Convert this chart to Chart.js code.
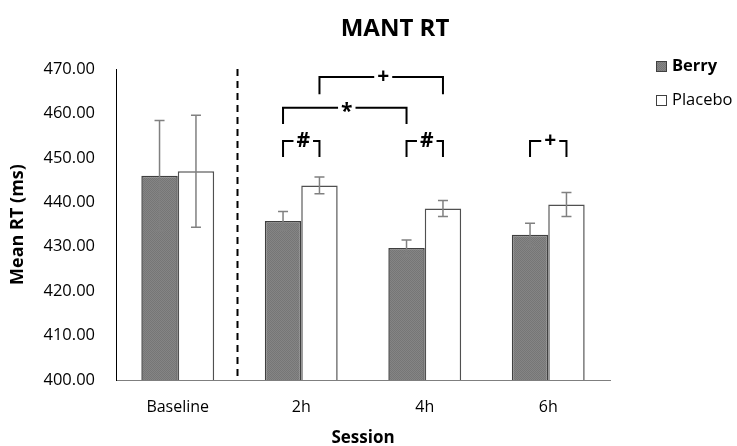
<!DOCTYPE html>
<html>
<head>
<meta charset="utf-8">
<script src="https://cdn.jsdelivr.net/npm/chart.js@4"></script>
<style>
  html, body { margin: 0; padding: 0; background: #fff; }
  #wrap { width: 737px; height: 446px; }
</style>
</head>
<body>
<div id="wrap"><canvas id="chart" width="737" height="446"></canvas></div>
<script>
// MANT RT — mean reaction time per session

const sessions = ['Baseline', '2h', '4h', '6h'];
const berryMeans = [446.0, 435.8, 429.7, 432.7];
const berryErr = [12.4, 2.1, 1.8, 2.6];
const placeboMeans = [447.0, 443.8, 438.6, 439.5];
const placeboErr = [12.6, 1.9, 1.8, 2.7];
const yTicks = [400, 410, 420, 430, 440, 450, 460, 470];

// significance brackets: [category, dataset] at each end, bar height, drop height
const brackets = [
  { from: [1, 1], to: [2, 1], y: 468.2, drop: 464.3, label: '+' },
  { from: [1, 0], to: [2, 0], y: 461.3, drop: 457.6, label: '*' },
  { from: [1, 0], to: [1, 1], y: 453.8, drop: 450.2, label: '#' },
  { from: [2, 0], to: [2, 1], y: 453.8, drop: 450.2, label: '#' },
  { from: [3, 0], to: [3, 1], y: 453.8, drop: 450.2, label: '+' },
];

const FONT = "'Open Sans', sans-serif";

function berryPattern() {
  const c = document.createElement('canvas');
  c.width = 2; c.height = 2;
  const g = c.getContext('2d');
  g.fillStyle = '#858585';
  g.fillRect(0, 0, 2, 2);
  g.fillStyle = '#767676';
  g.fillRect(0, 0, 1, 1);
  g.fillRect(1, 1, 1, 1);
  return g.createPattern(c, 'repeat');
}

const extras = {
  id: 'extras',
  afterDatasetsDraw(chart) {
    const { ctx, chartArea, scales } = chart;
    const x = scales.x, y = scales.y;

    // title, placed like the original (not centred on the plot)
    ctx.save();
    ctx.fillStyle = '#000';
    ctx.font = 'bold 24px ' + FONT;
    ctx.textAlign = 'center';
    ctx.textBaseline = 'middle';
    ctx.fillText('MANT RT', 395, 29);
    ctx.restore();

    // dashed separator between baseline and the post-dose sessions
    const sepX = (x.getPixelForValue(0) + x.getPixelForValue(1)) / 2 - 2;
    ctx.save();
    ctx.strokeStyle = '#000';
    ctx.lineWidth = 2;
    ctx.setLineDash([7, 5]);
    ctx.beginPath();
    ctx.moveTo(sepX, chartArea.top);
    ctx.lineTo(sepX, chartArea.bottom);
    ctx.stroke();
    ctx.restore();

    // error bars
    const errs = [berryErr, placeboErr];
    ctx.save();
    ctx.strokeStyle = '#808080';
    ctx.lineWidth = 1.5;
    chart.data.datasets.forEach((ds, di) => {
      chart.getDatasetMeta(di).data.forEach((bar, i) => {
        const v = ds.data[i];
        const top = y.getPixelForValue(v + errs[di][i]);
        const bot = y.getPixelForValue(v - errs[di][i]);
        ctx.beginPath();
        ctx.moveTo(bar.x, top); ctx.lineTo(bar.x, bot);
        ctx.moveTo(bar.x - 5, top); ctx.lineTo(bar.x + 5, top);
        ctx.moveTo(bar.x - 5, bot); ctx.lineTo(bar.x + 5, bot);
        ctx.stroke();
      });
    });
    ctx.restore();

    // brackets
    ctx.save();
    ctx.strokeStyle = '#000';
    ctx.fillStyle = '#000';
    ctx.lineWidth = 2;
    ctx.font = 'bold 21px ' + FONT;
    ctx.textAlign = 'center';
    ctx.textBaseline = 'middle';
    brackets.forEach((b) => {
      const x1 = chart.getDatasetMeta(b.from[1]).data[b.from[0]].x;
      const x2 = chart.getDatasetMeta(b.to[1]).data[b.to[0]].x;
      const yy = y.getPixelForValue(b.y);
      const yd = y.getPixelForValue(b.drop);
      const mid = (x1 + x2) / 2 + 2;
      const gap = ctx.measureText(b.label).width / 2 + 3;
      ctx.beginPath();
      ctx.moveTo(x1, yd); ctx.lineTo(x1, yy); ctx.lineTo(mid - gap, yy);
      ctx.moveTo(mid + gap, yy); ctx.lineTo(x2, yy); ctx.lineTo(x2, yd);
      ctx.stroke();
      ctx.fillText(b.label, mid, yy + (b.label === '*' ? 4 : 0));
    });
    ctx.restore();

    // legend
    ctx.save();
    const items = [
      { text: 'Berry', fill: chart.data.datasets[0].backgroundColor, bold: true, y: 66 },
      { text: 'Placebo', fill: '#fff', bold: false, y: 100 },
    ];
    ctx.textBaseline = 'middle';
    ctx.textAlign = 'left';
    items.forEach((it) => {
      ctx.fillStyle = it.fill;
      ctx.fillRect(656, it.y - 5, 10, 10);
      ctx.strokeStyle = '#404040';
      ctx.lineWidth = 1;
      ctx.strokeRect(656.5, it.y - 4.5, 10, 10);
      ctx.fillStyle = '#000';
      ctx.font = (it.bold ? 'bold ' : '') + '16.5px ' + FONT;
      ctx.fillText(it.text, 672, it.y);
    });
    ctx.restore();
  },
};

new Chart(document.getElementById('chart'), {
  type: 'bar',
  data: {
    labels: sessions,
    datasets: [
      {
        label: 'Berry',
        data: berryMeans,
        backgroundColor: berryPattern(),
        borderColor: '#3f3f3f',
        borderWidth: 1.5,
        borderSkipped: 'bottom',
        categoryPercentage: 0.59,
        barPercentage: 1.0,
      },
      {
        label: 'Placebo',
        data: placeboMeans,
        backgroundColor: '#ffffff',
        borderColor: '#505050',
        borderWidth: 1.5,
        borderSkipped: 'bottom',
        categoryPercentage: 0.59,
        barPercentage: 1.0,
      },
    ],
  },
  options: {
    responsive: false,
    animation: false,
    layout: { padding: { left: 0, right: 127, top: 69, bottom: 0 } },
    plugins: {
      legend: { display: false },
      tooltip: { enabled: false },
      title: { display: false },
    },
    scales: {
      x: {
        grid: { display: false, drawTicks: false },
        border: { color: '#7f7f7f', width: 1 },
        ticks: { color: '#000', font: { family: FONT, size: 16 }, padding: 18 },
        title: {
          display: true,
          text: 'Session',
          color: '#000',
          font: { family: FONT, size: 17, weight: 'bold' },
          padding: { top: 8, bottom: -2 },
        },
        afterFit: (s) => { s.height = 66; },
      },
      y: {
        min: yTicks[0],
        max: yTicks[yTicks.length - 1],
        afterBuildTicks: (s) => { s.ticks = yTicks.map((v) => ({ value: v })); },
        grid: { display: false, drawTicks: false },
        border: { color: '#000', width: 1 },
        ticks: {
          color: '#000',
          font: { family: FONT, size: 16.5 },
          padding: 21,
          callback: (v) => Number(v).toFixed(2),
        },
        title: {
          display: true,
          text: 'Mean RT (ms)',
          color: '#000',
          font: { family: FONT, size: 18, weight: 'bold' },
          padding: { top: 7, bottom: 4 },
        },
        afterFit: (s) => { s.width = 116; },
      },
    },
  },
  plugins: [extras],
});
</script>
</body>
</html>
